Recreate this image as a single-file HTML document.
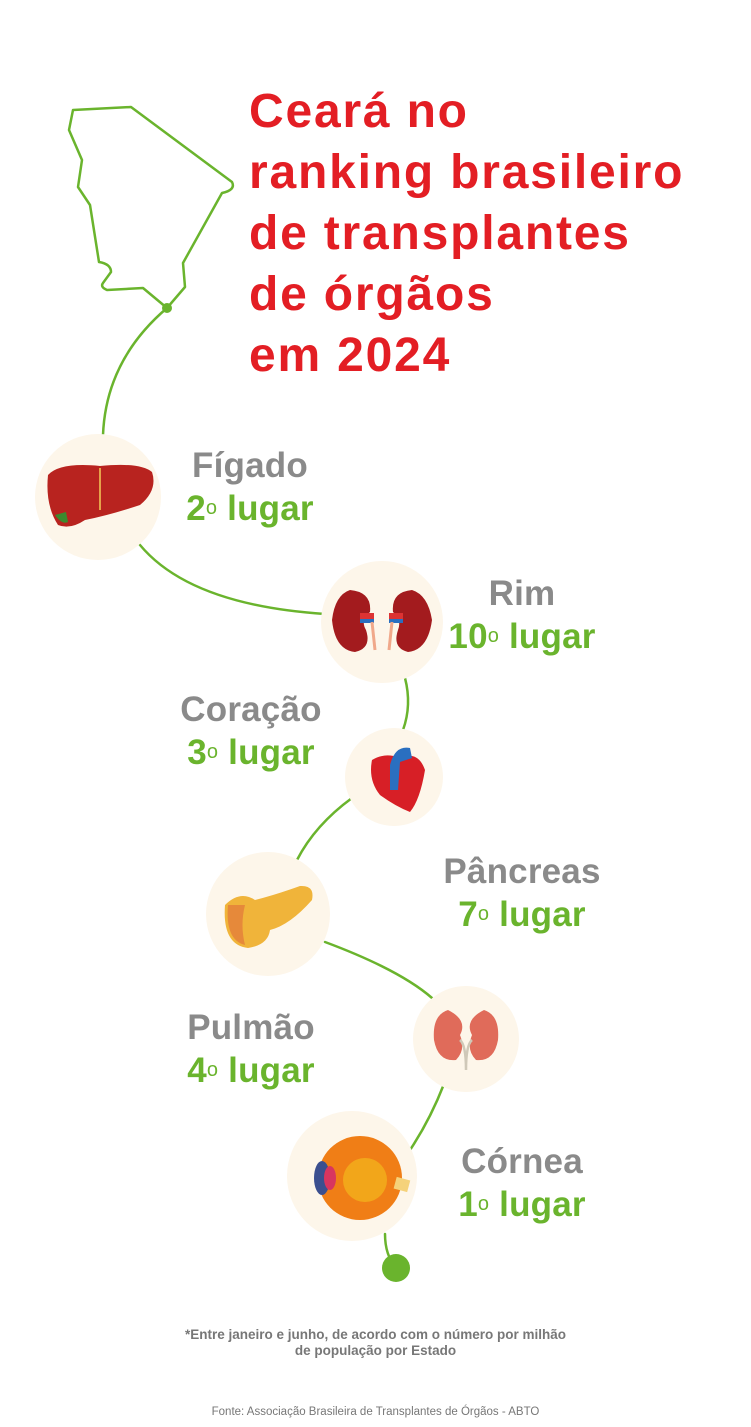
<!DOCTYPE html>
<html><head><meta charset="utf-8"><style>
html,body{margin:0;padding:0;background:#fff;}
body{width:751px;height:1427px;position:relative;overflow:hidden;font-family:"Liberation Sans",sans-serif;}
.t{position:absolute;left:249px;top:81px;color:#e31e24;font-weight:bold;font-size:48px;line-height:61px;letter-spacing:1.8px;white-space:nowrap;}
.l{position:absolute;width:240px;text-align:center;font-weight:bold;font-size:35px;line-height:43px;letter-spacing:0.2px;}
.g{color:#8a8a8a}.v{color:#6ab42d}
sup{font-size:20px;vertical-align:6px;font-weight:normal}
.f{position:absolute;width:751px;left:0;text-align:center;color:#777;}
</style></head><body>
<svg width="751" height="1427" style="position:absolute;left:0;top:0">
<g fill="none" stroke="#6ab42d" stroke-width="2.5" stroke-linejoin="round" stroke-linecap="round">
<path d="M73,110 L131,107 L232,182 Q236,190 222,193 L183,263 L185,287 L167,308 L143,288 L107,290 Q100,287 103,283 L111,272 Q111,264 99,262 L90,205 L78,187 L82,160 L69,130 Z"/>
<path d="M167,308 Q106,360 103,435"/>
<path d="M140,545 Q190,605 325,614"/>
<path d="M405,678 Q412,705 403,730"/>
<path d="M352,798 Q315,825 297,860"/>
<path d="M325,942 Q400,970 432,998"/>
<path d="M444,1084 Q430,1120 410,1150"/>
<path d="M385,1234 Q385,1255 396,1268"/>
</g>
<circle cx="167" cy="308" r="5" fill="#6ab42d"/>
<circle cx="396" cy="1268" r="14" fill="#6ab42d"/>
<g fill="#fdf6ea">
<circle cx="98" cy="497" r="63"/>
<circle cx="382" cy="622" r="61"/>
<circle cx="394" cy="777" r="49"/>
<circle cx="268" cy="914" r="62"/>
<circle cx="466" cy="1039" r="53"/>
<circle cx="352" cy="1176" r="65"/>
</g>
<path d="M48,475 Q60,462 100,466 Q140,462 152,472 Q158,490 140,505 Q110,515 85,520 Q70,530 58,525 Q45,505 48,475Z" fill="#b8231f"/>
<path d="M55,515 Q62,525 68,522 L66,512Z" fill="#3c8a2e"/>
<line x1="100" y1="468" x2="100" y2="510" stroke="#e5a24a" stroke-width="2"/>
<path d="M350,590 Q335,595 332,620 Q335,650 355,652 Q372,648 366,630 Q360,620 370,612 Q372,592 350,590Z" fill="#a31b1e"/>
<path d="M412,590 Q428,595 432,620 Q428,650 408,652 Q392,648 398,630 Q402,620 393,612 Q391,592 412,590Z" fill="#a31b1e"/>
<rect x="360" y="613" width="14" height="8" fill="#d33"/><rect x="360" y="619" width="14" height="4" fill="#2a6fc0"/>
<rect x="389" y="613" width="14" height="8" fill="#d33"/><rect x="389" y="619" width="14" height="4" fill="#2a6fc0"/>
<path d="M372,622 L375,650 M392,622 L389,650" stroke="#f0a88a" stroke-width="3"/>
<path d="M372,760 Q385,752 400,758 Q418,750 425,770 Q420,800 410,812 Q395,806 380,795 Q368,780 372,760Z" fill="#d71f26"/>
<path d="M390,765 Q395,745 410,748 L412,758 L400,762 L398,790 L390,790Z" fill="#2a6fc0"/>
<path d="M225,905 Q222,945 248,948 Q268,945 270,930 Q290,925 312,900 Q315,885 300,886 Q275,895 255,900 Q240,890 225,905Z" fill="#f0b43a"/>
<path d="M228,905 Q225,940 245,945 Q240,925 245,905Z" fill="#e6893a"/>
<path d="M448,1010 Q432,1015 434,1040 Q438,1062 456,1060 Q466,1050 460,1035 Q468,1020 448,1010Z" fill="#e06b5a"/>
<path d="M484,1010 Q500,1015 498,1040 Q494,1062 476,1060 Q466,1050 472,1035 Q464,1020 484,1010Z" fill="#e06b5a"/>
<path d="M460,1040 Q466,1045 466,1070 M472,1040 Q466,1045 466,1070" stroke="#cfc8b8" stroke-width="2.5" fill="none"/>
<circle cx="360" cy="1178" r="42" fill="#f07e16"/>
<circle cx="365" cy="1180" r="22" fill="#f3b01b" opacity="0.8"/>
<rect x="395" y="1178" width="14" height="12" fill="#f5d27a" transform="rotate(15 400 1184)"/>
<ellipse cx="322" cy="1178" rx="8" ry="17" fill="#3b4f8f"/>
<ellipse cx="330" cy="1178" rx="6" ry="12" fill="#d8355f"/>
</svg>
<div class="t">Ceará no<br>ranking brasileiro<br>de transplantes<br>de órgãos<br>em 2024</div>
<div class="l" style="left:130px;top:444px"><span class="g">Fígado</span><br><span class="v">2<sup>o</sup> lugar</span></div>
<div class="l" style="left:402px;top:572px"><span class="g">Rim</span><br><span class="v">10<sup>o</sup> lugar</span></div>
<div class="l" style="left:131px;top:688px"><span class="g">Coração</span><br><span class="v">3<sup>o</sup> lugar</span></div>
<div class="l" style="left:402px;top:850px"><span class="g">Pâncreas</span><br><span class="v">7<sup>o</sup> lugar</span></div>
<div class="l" style="left:131px;top:1006px"><span class="g">Pulmão</span><br><span class="v">4<sup>o</sup> lugar</span></div>
<div class="l" style="left:402px;top:1140px"><span class="g">Córnea</span><br><span class="v">1<sup>o</sup> lugar</span></div>
<div class="f" style="top:1327px;font-weight:bold;font-size:13.5px;line-height:16px;">*Entre janeiro e junho, de acordo com o número por milhão<br>de população por Estado</div>
<div class="f" style="top:1406px;font-size:11.5px;">Fonte: Associação Brasileira de Transplantes de Órgãos - ABTO</div>
</body></html>
